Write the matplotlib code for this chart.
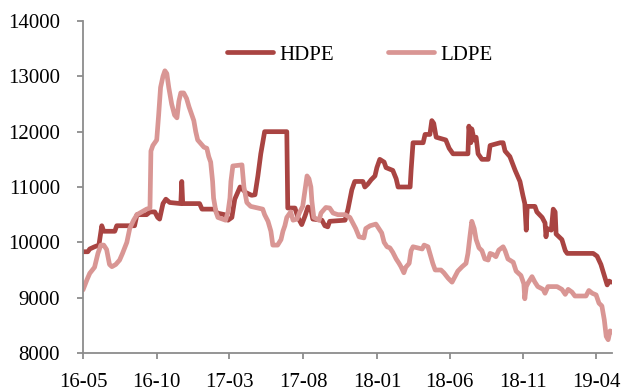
import matplotlib
matplotlib.use("Agg")
import matplotlib.pyplot as plt
import pandas as pd

plt.rcParams['font.family'] = ['Liberation Serif', 'DejaVu Serif']

start = "2016-05-01"

# days since 2016-05-01 and price values
hdpe_day = [0, 10, 14, 24, 33, 39, 43, 66, 70, 107, 112, 132, 139, 149, 155, 159, 166, 172, 180,
            203, 205, 207, 242, 247, 274, 278, 294, 301, 309, 315, 326, 332, 338, 350, 357, 363,
            369, 373, 377, 423, 425, 440, 446, 454, 461, 467, 473, 477, 496, 502, 508, 512, 544,
            550, 558, 564, 581, 585, 591, 598, 606, 610, 616, 625, 629, 643, 650, 654, 679, 681,
            685, 706, 710, 720, 724, 728, 733, 753, 760, 768, 799, 801, 805, 807, 812, 816, 820,
            828, 841, 845, 866, 872, 876, 886, 897, 907, 913, 917, 920, 922, 938, 942, 953, 959,
            961, 963, 972, 976, 980, 982, 994, 1001, 1005, 1059, 1067, 1075, 1082, 1088, 1092, 1096]
hdpe_val = [9830, 9830, 9880, 9920, 9950, 10300, 10200, 10200, 10300, 10300, 10500, 10500, 10550,
            10550, 10450, 10420, 10700, 10780, 10720, 10700, 11100, 10700, 10700, 10600, 10600,
            10530, 10500, 10400, 10450, 10780, 11000, 10950, 10900, 10850, 10860, 11200, 11600,
            11800, 12000, 12000, 10620, 10620, 10450, 10320, 10480, 10640, 10600, 10420, 10400,
            10300, 10280, 10380, 10400, 10600, 10950, 11100, 11100, 11000, 11050, 11130, 11200,
            11350, 11500, 11450, 11350, 11300, 11150, 11000, 11000, 11300, 11800, 11800, 11950,
            11950, 12200, 12150, 11900, 11850, 11700, 11600, 11600, 12100, 11800, 12050, 11850,
            11900, 11600, 11500, 11500, 11750, 11800, 11800, 11650, 11550, 11300, 11100, 10850,
            10700, 10220, 10650, 10650, 10550, 10450, 10350, 10100, 10250, 10220, 10600, 10550,
            10150, 10050, 9850, 9800, 9800, 9750, 9600, 9400, 9230, 9300, 9280]

ldpe_day = [0, 8, 14, 24, 31, 37, 43, 49, 55, 60, 68, 76, 82, 91, 97, 105, 112, 132, 139, 141,
            145, 153, 157, 161, 166, 170, 174, 178, 184, 190, 195, 199, 203, 209, 215, 220, 226,
            230, 234, 238, 251, 257, 261, 265, 269, 271, 276, 280, 296, 301, 305, 307, 311, 330,
            334, 340, 348, 373, 377, 384, 390, 394, 404, 411, 415, 419, 423, 431, 436, 444, 450,
            456, 461, 465, 469, 473, 475, 479, 490, 494, 504, 512, 519, 529, 544, 554, 560, 566,
            573, 583, 587, 596, 608, 614, 620, 625, 631, 637, 643, 650, 656, 660, 666, 670, 677,
            681, 685, 704, 708, 716, 720, 726, 731, 743, 749, 758, 766, 772, 778, 787, 795, 799,
            803, 807, 812, 816, 822, 828, 834, 841, 845, 851, 857, 863, 872, 876, 882, 893, 899,
            909, 915, 917, 920, 924, 932, 938, 944, 955, 959, 965, 984, 994, 1001, 1007, 1015,
            1021, 1044, 1050, 1057, 1065, 1071, 1077, 1082, 1086, 1090, 1094, 1098]
ldpe_val = [9140, 9320, 9440, 9550, 9800, 9950, 9950, 9870, 9600, 9560, 9600, 9680, 9800, 10000,
            10250, 10400, 10500, 10600, 10620, 11650, 11750, 11850, 12300, 12800, 13000, 13100,
            13050, 12800, 12500, 12300, 12250, 12550, 12700, 12700, 12600, 12450, 12300, 12200,
            12000, 11850, 11720, 11700, 11550, 11450, 11100, 10800, 10550, 10450, 10400, 10550,
            10800, 11100, 11380, 11400, 11000, 10720, 10650, 10600, 10500, 10380, 10200, 9950,
            9950, 10050, 10200, 10300, 10450, 10550, 10400, 10420, 10550, 10650, 10950, 11200,
            11150, 11000, 10750, 10450, 10400, 10530, 10630, 10620, 10530, 10500, 10500, 10450,
            10350, 10250, 10100, 10080, 10250, 10300, 10330, 10250, 10170, 10000, 9920, 9900,
            9820, 9700, 9620, 9560, 9450, 9550, 9620, 9850, 9920, 9880, 9950, 9920, 9800, 9620,
            9500, 9500, 9450, 9350, 9280, 9380, 9480, 9560, 9620, 9800, 10100, 10380, 10250,
            10050, 9900, 9850, 9700, 9680, 9800, 9780, 9740, 9860, 9920, 9850, 9700, 9640, 9480,
            9400, 9250, 8980, 9200, 9270, 9380, 9280, 9200, 9150, 9080, 9200, 9200, 9150, 9060,
            9150, 9100, 9030, 9030, 9130, 9080, 9050, 8900, 8850, 8600, 8300, 8240, 8400, 8380]

tick_labels = ["16-05", "16-10", "17-03", "17-08", "18-01", "18-06", "18-11", "19-04"]
series_names = ["HDPE", "LDPE"]
colors = ["#A94442", "#D99694"]

t0 = pd.Timestamp(start)
hdpe_dates = t0 + pd.to_timedelta(hdpe_day, unit="D")
ldpe_dates = t0 + pd.to_timedelta(ldpe_day, unit="D")
tick_dates = [pd.Timestamp("20" + s.replace("-", "") + "01") for s in tick_labels]

fig = plt.figure(figsize=(6.25, 3.92), dpi=100)
ax = fig.add_axes([83/625, 39/392, 529/625, 332/392])

ax.plot(hdpe_dates, hdpe_val, color=colors[0], lw=3.4, label=series_names[0],
        solid_joinstyle="round", solid_capstyle="round")
ax.plot(ldpe_dates, ldpe_val, color=colors[1], lw=3.4, label=series_names[1],
        solid_joinstyle="round", solid_capstyle="round")

ax.set_ylim(8000, 14000)
ax.set_yticks(range(8000, 14001, 1000))
ax.set_xlim(t0, t0 + pd.Timedelta(days=1098))
ax.set_xticks(tick_dates)
ax.set_xticklabels(tick_labels)

for s in ["top", "right"]:
    ax.spines[s].set_visible(False)
for s in ["left", "bottom"]:
    ax.spines[s].set_color("#8C8C8C")
    ax.spines[s].set_linewidth(1.3)
ax.tick_params(axis="both", colors="#8C8C8C", labelcolor="black", labelsize=15,
               length=4.5, width=1.3, direction="out")
ax.tick_params(axis="y", pad=12)
ax.tick_params(axis="x", pad=10)

leg = ax.legend(loc="center", bbox_to_anchor=(0.5236, 0.8976), ncol=2, frameon=False,
                fontsize=15, handlelength=2.2, handletextpad=0.3, columnspacing=2.6)
for line in leg.get_lines():
    line.set_linewidth(3.4)

fig.savefig("out.png", dpi=100)
